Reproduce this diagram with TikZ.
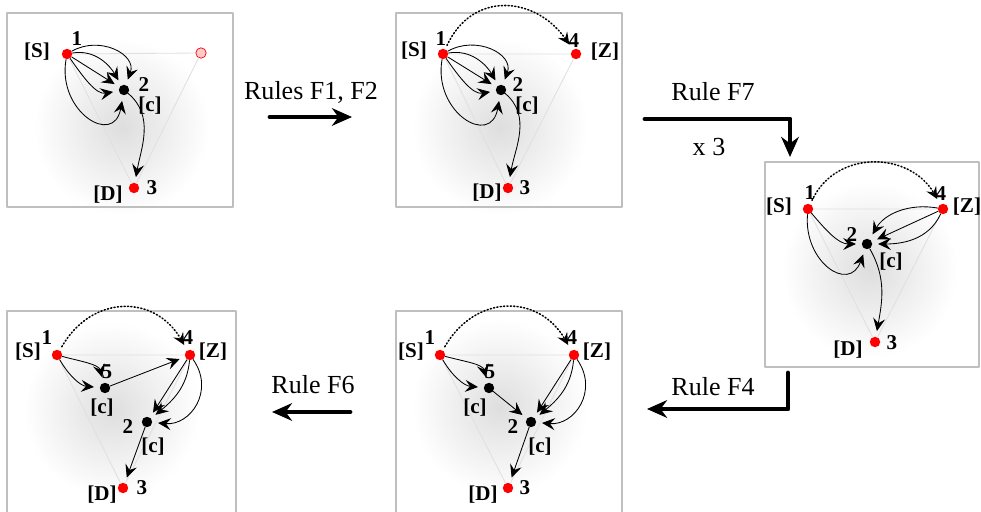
\documentclass[tikz,border=0pt]{standalone}
\usepackage{fontspec}
\setmainfont{Liberation Serif}
\usetikzlibrary{arrows.meta}

\begin{document}
\begin{tikzpicture}[x=0.025cm,y=0.025cm,line join=round,line cap=round,
  redpt/.style={circle,fill=red,inner sep=0pt,minimum size=2.6mm},
  blkpt/.style={circle,fill=black,inner sep=0pt,minimum size=2.6mm},
  ghostpt/.style={circle,draw=red,fill=red!20,line width=0.5pt,inner sep=0pt,minimum size=2.6mm},
  lbl/.style={font=\fontsize{15}{17}\selectfont\bfseries,inner sep=0pt},
  ruletxt/.style={font=\fontsize{18.5}{20}\selectfont,inner sep=0pt},
  edge/.style={-{Stealth[length=3.2mm,width=3mm,inset=1.2mm]},line width=0.6pt,shorten >=1.4mm},
  hop/.style={-{Stealth[length=3mm,width=2.8mm,inset=1.1mm]},line width=1.1pt,dash pattern=on 0.8pt off 1.6pt,shorten >=1.5mm,shorten <=1mm},
  tri/.style={black!12,line width=0.6pt},
  panel/.style={draw=black!25,line width=0.8pt},
  bigarrow/.style={-{Stealth[length=5mm,width=4.4mm,inset=1.6mm]},line width=3.5pt}]
\useasboundingbox (0,0) rectangle (981,512);
\foreach \cx/\cy in {122/385,500/385,870/242,112/102,500/105}
  {\shade[inner color=black!13,outer color=white] (\cx,\cy) circle (88);}
\draw[panel] (7,305) rectangle (233,499);
\draw[panel] (396,305) rectangle (622,499);
\draw[panel] (765,145) rectangle (979,350);
\draw[panel] (7,0) -- (7,201) -- (236,201) -- (236,0);
\draw[panel] (396,0) -- (396,201) -- (622,201) -- (622,0);

% panel a
\node[redpt] (a1) at (67,458) {};
\node[blkpt] (a2) at (124,422) {};
\node[redpt] (a3) at (134,324) {};
\node[ghostpt] (a4) at (201,459) {};
\draw[tri] (a1) -- (a4) -- (a3) -- (a1);
\node[lbl] (aS) at (37,460) {[S]};
\node[lbl] (a1t) at (77,473) {1};
\node[lbl] (a2t) at (144,427) {2};
\node[lbl] (aC) at (150,406) {[c]};
\node[lbl] (a3t) at (152,324) {3};
\node[lbl] (aD) at (108,317) {[D]};
\draw[edge] (a1) to[out=30,in=70,looseness=1.3] (a2);
\draw[edge] (a1) to[out=10,in=120] (a2);
\draw[edge] (a1) -- (a2);
\draw[edge] (a1) to[out=-55,in=190] (a2);
\draw[edge] (a1) to[out=-100,in=-100,looseness=2] (a2);
\draw[edge] (a2) to[out=-40,in=80] (a3);

% panel b
\node[redpt] (b1) at (443,458) {};
\node[blkpt] (b2) at (501,422) {};
\node[redpt] (b3) at (508,324) {};
\node[redpt] (b4) at (576,458) {};
\draw[tri] (b1) -- (b4) -- (b3) -- (b1);
\node[lbl] (bS) at (414,461) {[S]};
\node[lbl] (b1t) at (441,473) {1};
\node[lbl] (b4t) at (574,471) {4};
\node[lbl] (bZ) at (605,460) {[Z]};
\node[lbl] (b2t) at (518,427) {2};
\node[lbl] (bC) at (527,406) {[c]};
\node[lbl] (b3t) at (525,324) {3};
\node[lbl] (bD) at (487,319) {[D]};
\draw[hop] (b1) to[out=65,in=125,looseness=1.3] (b4);
\draw[edge] (b1) to[out=30,in=70,looseness=1.3] (b2);
\draw[edge] (b1) to[out=10,in=120] (b2);
\draw[edge] (b1) -- (b2);
\draw[edge] (b1) to[out=-55,in=190] (b2);
\draw[edge] (b1) to[out=-100,in=-100,looseness=2] (b2);
\draw[edge] (b2) to[out=-40,in=80] (b3);

% panel c
\node[redpt] (c1) at (808,303) {};
\node[blkpt] (c2) at (867,268) {};
\node[redpt] (c3) at (875,170) {};
\node[redpt] (c4) at (943,303) {};
\draw[tri] (c1) -- (c4) -- (c3) -- (c1);
\node[lbl] (cS) at (779,305) {[S]};
\node[lbl] (c1t) at (810,319) {1};
\node[lbl] (c4t) at (941,318) {4};
\node[lbl] (cZ) at (967,305) {[Z]};
\node[lbl] (c2t) at (852,277) {2};
\node[lbl] (cC) at (891,250) {[c]};
\node[lbl] (c3t) at (892,169) {3};
\node[lbl] (cD) at (848,162) {[D]};
\draw[hop] (c1) to[out=65,in=120,looseness=1.2] (c4);
\draw[edge] (c4) to[out=170,in=60] (c2);
\draw[edge] (c4) -- (c2);
\draw[edge] (c4) to[out=-115,in=0] (c2);
\draw[edge] (c1) to[out=-50,in=180] (c2);
\draw[edge] (c1) to[out=-95,in=-110,looseness=1.8] (c2);
\draw[edge] (c2) to[out=-60,in=80] (c3);

% panel d
\node[redpt] (d1) at (57,157) {};
\node[blkpt] (d5) at (105,124) {};
\node[blkpt] (d2) at (147,90) {};
\node[redpt] (d3) at (123,24) {};
\node[redpt] (d4) at (190,157) {};
\draw[tri] (d1) -- (d4) -- (d3) -- (d1);
\node[lbl] (dS) at (28,160) {[S]};
\node[lbl] (d1t) at (47,174) {1};
\node[lbl] (d4t) at (188,174) {4};
\node[lbl] (dZ) at (213,160) {[Z]};
\node[lbl] (d5t) at (107,140) {5};
\node[lbl] (dC5) at (102,104) {[c]};
\node[lbl] (d2t) at (128,85) {2};
\node[lbl] (dC2) at (153,65) {[c]};
\node[lbl] (d3t) at (142,24) {3};
\node[lbl] (dD) at (102,17) {[D]};
\draw[hop] (d1) to[out=60,in=120,looseness=1.3] (d4);
\draw[edge] (d1) to[out=-15,in=105] (d5);
\draw[edge] (d1) to[out=-60,in=175] (d5);
\draw[edge] (d5) -- (d4);
\draw[edge] (d4) -- (d2);
\draw[edge] (d4) to[out=-95,in=40] (d2);
\draw[edge] (d4) to[out=-55,in=-5,looseness=1.3] (d2);
\draw[edge] (d2) -- (d3);

% panel e
\node[redpt] (e1) at (440,157) {};
\node[blkpt] (e5) at (489,124) {};
\node[blkpt] (e2) at (531,90) {};
\node[redpt] (e3) at (508,24) {};
\node[redpt] (e4) at (574,157) {};
\draw[tri] (e1) -- (e4) -- (e3) -- (e1);
\node[lbl] (eS) at (411,160) {[S]};
\node[lbl] (e1t) at (430,174) {1};
\node[lbl] (e4t) at (572,174) {4};
\node[lbl] (eZ) at (597,160) {[Z]};
\node[lbl] (e5t) at (490,140) {5};
\node[lbl] (eC5) at (475,104) {[c]};
\node[lbl] (e2t) at (513,85) {2};
\node[lbl] (eC2) at (540,65) {[c]};
\node[lbl] (e3t) at (525,24) {3};
\node[lbl] (eD) at (483,17) {[D]};
\draw[hop] (e1) to[out=60,in=120,looseness=1.3] (e4);
\draw[edge] (e1) to[out=-15,in=105] (e5);
\draw[edge] (e1) to[out=-60,in=175] (e5);
\draw[edge] (e5) -- (e2);
\draw[edge] (e4) -- (e2);
\draw[edge] (e4) to[out=-95,in=40] (e2);
\draw[edge] (e4) to[out=-55,in=-5,looseness=1.3] (e2);
\draw[edge] (e2) -- (e3);

% rules
\coordinate (r12a) at (270,395);
\coordinate (r12b) at (352,395);
\coordinate (r7a) at (645,393);
\coordinate (r7b) at (790,355);
\coordinate (r4a) at (788,139);
\coordinate (r4b) at (647,103);
\coordinate (r6a) at (350,100);
\coordinate (r6b) at (272,100);
\draw[bigarrow] (r12a) -- (r12b);
\draw[bigarrow] (r7a) -| (r7b);
\draw[bigarrow] (r4a) |- (r4b);
\draw[bigarrow] (r6a) -- (r6b);
\node[ruletxt] (t12) at (311,420) {Rules F1, F2};
\node[ruletxt] (t7) at (713,420) {Rule F7};
\node[ruletxt] (tx3) at (709,365) {x 3};
\node[ruletxt] (t4) at (713,125) {Rule F4};
\node[ruletxt] (t6) at (313,127) {Rule F6};
\end{tikzpicture}
\end{document}
